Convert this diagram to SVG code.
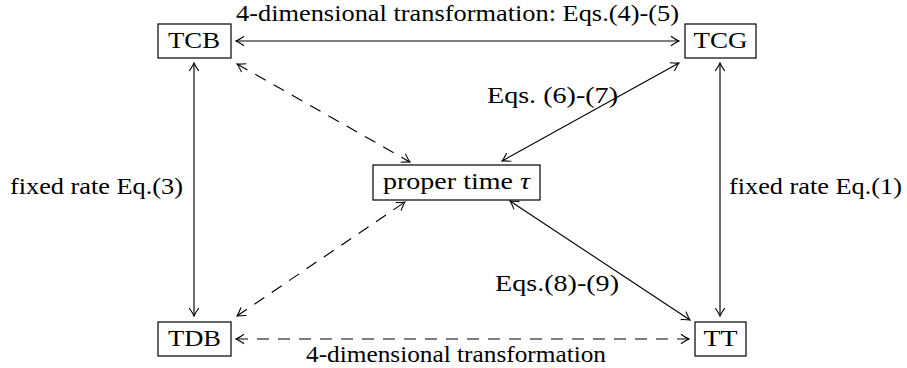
<svg xmlns="http://www.w3.org/2000/svg" width="907" height="368" viewBox="0 0 907 368">
<style>
text{font-family:"Liberation Serif","Times New Roman",serif;font-size:23px;fill:#000}
.box{fill:#fff;stroke:#000;stroke-width:1.2}
.c{fill:none;stroke:#000;stroke-width:1.15;marker-start:url(#ah);marker-end:url(#ah)}
.d{stroke-dasharray:12 9}
</style>
<defs>
<marker id="ah" markerUnits="userSpaceOnUse" markerWidth="14" markerHeight="14" viewBox="-10 -7 14 14" refX="0" refY="0" orient="auto-start-reverse">
<path d="M-8,-4.8 Q-2.5,-1 0,0 Q-2.5,1 -8,4.8" fill="none" stroke="#000" stroke-width="1.1"/>
</marker>
</defs>
<g id="connectors">
<line class="c" x1="236" y1="41" x2="679" y2="41"/>
<line class="c d" x1="236" y1="339" x2="689" y2="339"/>
<line class="c" x1="194" y1="63" x2="194" y2="316"/>
<line class="c" x1="720" y1="63" x2="720" y2="316"/>
<line class="c d" x1="237" y1="64" x2="410" y2="162"/>
<line class="c d" x1="237" y1="316" x2="405" y2="202"/>
<line class="c" x1="679" y1="63" x2="502" y2="161"/>
<line class="c" x1="510" y1="201" x2="690" y2="320"/>
</g>
<g id="labels">
<text x="236" y="21" textLength="443" lengthAdjust="spacingAndGlyphs">4-dimensional transformation: Eqs.(4)-(5)</text>
<text x="306" y="362" textLength="300" lengthAdjust="spacingAndGlyphs">4-dimensional transformation</text>
<text x="10" y="194" textLength="173" lengthAdjust="spacingAndGlyphs">fixed rate Eq.(3)</text>
<text x="729" y="194" textLength="173" lengthAdjust="spacingAndGlyphs">fixed rate Eq.(1)</text>
<text x="487" y="103" textLength="131" lengthAdjust="spacingAndGlyphs">Eqs. (6)-(7)</text>
<text x="495" y="291" textLength="124" lengthAdjust="spacingAndGlyphs">Eqs.(8)-(9)</text>
</g>
<g id="TCB"><rect class="box" x="158" y="24" width="73" height="34"/><text x="168" y="48" textLength="52" lengthAdjust="spacingAndGlyphs">TCB</text></g>
<g id="TCG"><rect class="box" x="685" y="24" width="71" height="34"/><text x="693.5" y="48" textLength="54" lengthAdjust="spacingAndGlyphs">TCG</text></g>
<g id="TDB"><rect class="box" x="158" y="322" width="73" height="34"/><text x="168" y="346" textLength="53" lengthAdjust="spacingAndGlyphs">TDB</text></g>
<g id="TT"><rect class="box" x="695" y="322" width="51" height="34"/><text x="703.5" y="346" textLength="34" lengthAdjust="spacingAndGlyphs">TT</text></g>
<g id="proper"><rect class="box" x="373" y="165" width="167" height="35"/><text x="383" y="189" textLength="147" lengthAdjust="spacingAndGlyphs">proper time <tspan font-style="italic">τ</tspan></text></g>
</svg>
